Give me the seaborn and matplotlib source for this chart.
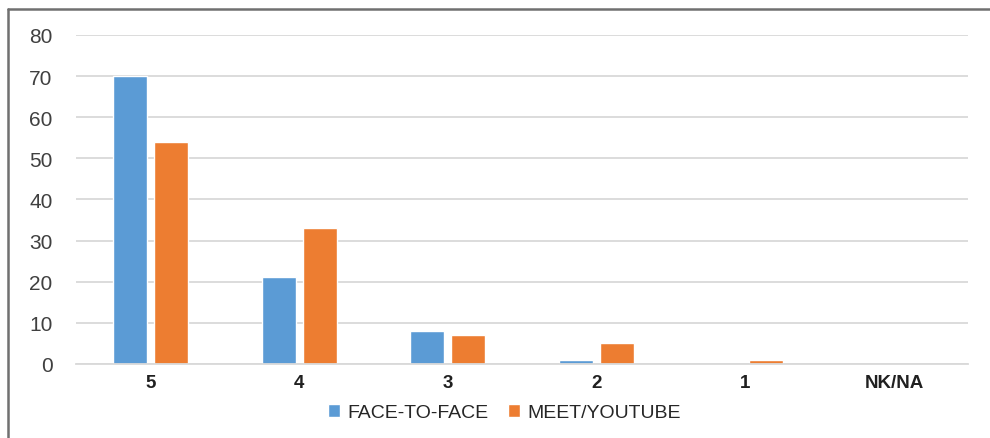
import pandas as pd
import matplotlib.pyplot as plt
import seaborn as sns
from matplotlib.lines import Line2D

# data
categories = ["5", "4", "3", "2", "1", "NK/NA"]
face_to_face = [70, 21, 8, 1, 0, 0]
meet_youtube = [54, 33, 7, 5, 1, 0]

df = pd.DataFrame({
    "Rating": categories * 2,
    "Value": face_to_face + meet_youtube,
    "Mode": ["FACE-TO-FACE"] * len(categories) + ["MEET/YOUTUBE"] * len(categories),
})

sns.set_theme(style="white")
plt.rcParams["font.family"] = ["Liberation Sans", "DejaVu Sans"]

fig = plt.figure(figsize=(9.9, 4.39), dpi=100)
ax = fig.add_axes([0.077, 0.169, 0.901, 0.749])

sns.barplot(
    data=df, x="Rating", y="Value", hue="Mode",
    palette=["#5B9BD5", "#ED7D31"], saturation=1, width=0.55, gap=0.17,
    ax=ax, legend=True,
)

ax.set_ylim(0, 80)
ax.set_yticks(range(0, 81, 10))
ax.set_xlim(-0.5, 5.5)
ax.yaxis.grid(True, color="#d9d9d9", linewidth=1.3)
ax.set_axisbelow(True)
for s in ["top", "right", "left"]:
    ax.spines[s].set_visible(False)
ax.spines["bottom"].set_color("#d9d9d9")
ax.spines["bottom"].set_linewidth(1.3)
ax.set_xlabel("")
ax.set_ylabel("")
ax.tick_params(axis="y", labelsize=15, colors="#404040", pad=17, length=0)
ax.tick_params(axis="x", labelsize=13.5, length=0, pad=7)
for lbl in ax.get_xticklabels():
    lbl.set_fontweight("bold")
    lbl.set_color("#202020")

ax.legend(
    loc="upper center", bbox_to_anchor=(0.48, -0.07), ncol=2, frameon=False,
    fontsize=14, handlelength=0.6, handleheight=0.6, handletextpad=0.4,
    columnspacing=1.0,
)

# outer border (only top and left edges are visible in the frame)
fig.add_artist(Line2D([0.008, 1.0], [0.977, 0.977], transform=fig.transFigure,
                      color="#707070", linewidth=1.8))
fig.add_artist(Line2D([0.008, 0.008], [0.0, 0.977], transform=fig.transFigure,
                      color="#707070", linewidth=1.8))

fig.savefig("out.png", dpi=100)
